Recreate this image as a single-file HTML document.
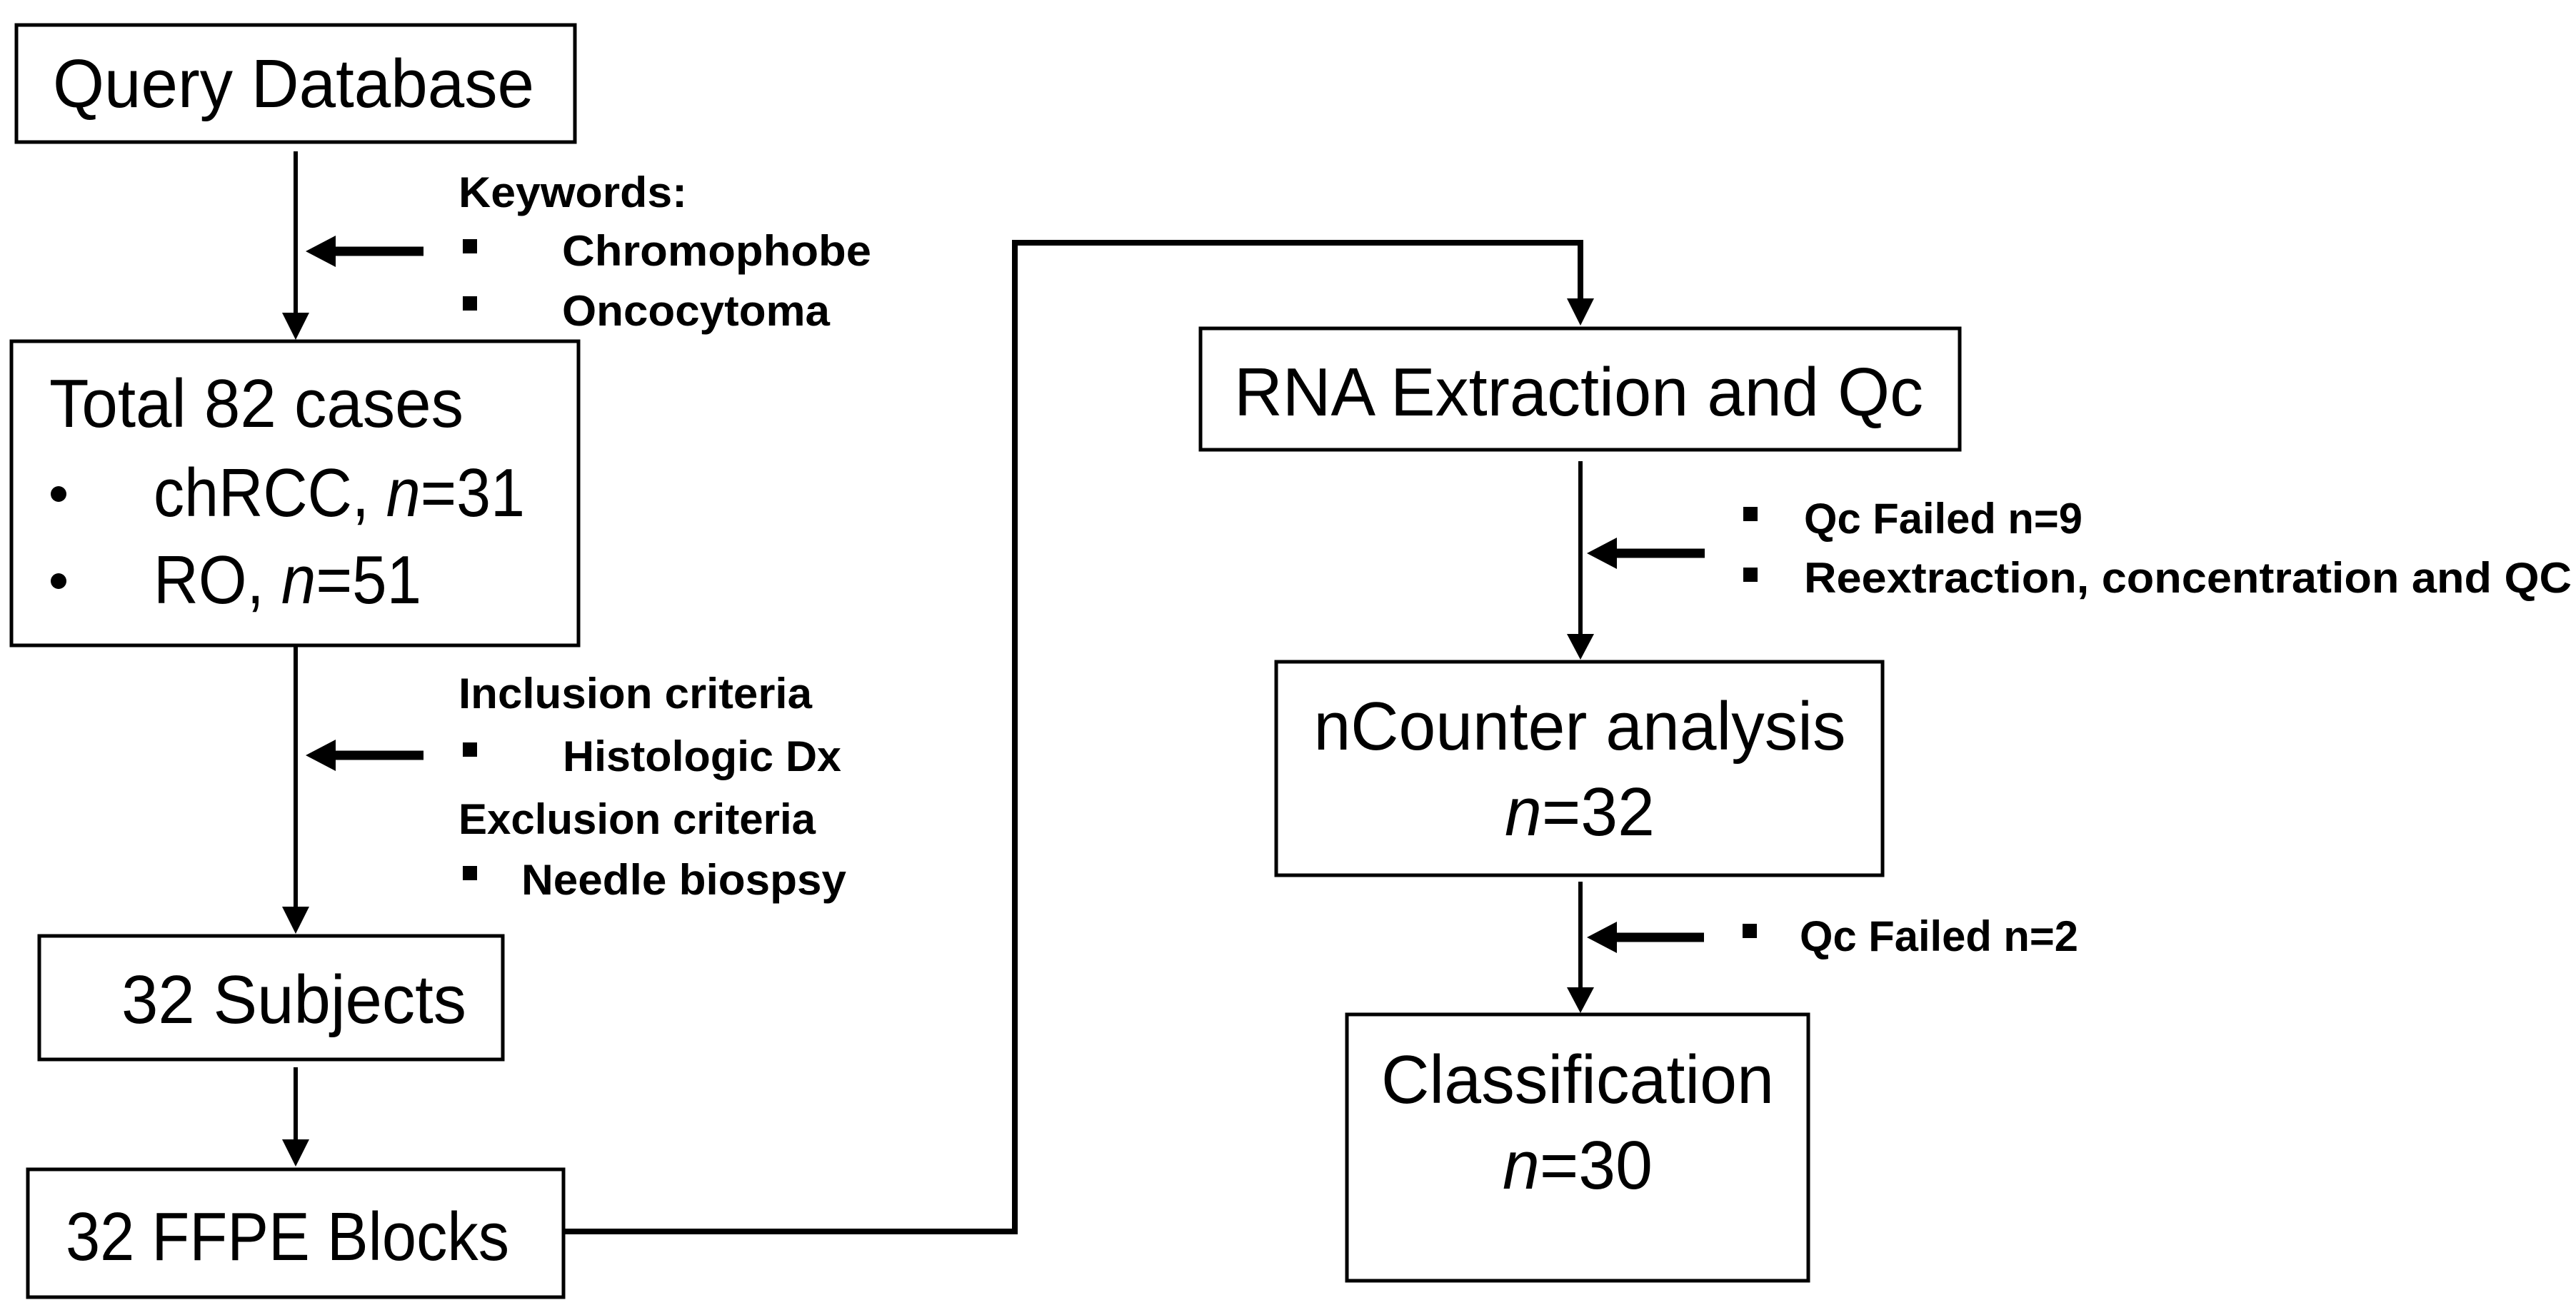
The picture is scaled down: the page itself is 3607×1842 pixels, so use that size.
<!DOCTYPE html>
<html><head><meta charset="utf-8"><style>
html,body{margin:0;padding:0;background:#fff;}
svg{display:block;}
.m{font-family:"Liberation Sans",sans-serif;font-size:96px;fill:#000;}
.b{font-family:"Liberation Sans",sans-serif;font-size:60px;font-weight:bold;fill:#000;}
</style></head><body>
<svg width="3607" height="1842" viewBox="0 0 3607 1842" xmlns="http://www.w3.org/2000/svg">
<g fill="none" stroke="#000" stroke-width="5">
<rect x="23" y="35" width="782" height="164"/>
<rect x="16" y="478" width="794" height="426"/>
<rect x="55" y="1311" width="649" height="173"/>
<rect x="39" y="1638" width="750" height="179"/>
<rect x="1681" y="460" width="1063" height="170"/>
<rect x="1787" y="927" width="849" height="299"/>
<rect x="1886" y="1421" width="646" height="373"/>
</g>
<g stroke="#000" stroke-width="6" fill="none">
<line x1="414" y1="212" x2="414" y2="440"/>
<line x1="414" y1="904" x2="414" y2="1272"/>
<line x1="414" y1="1495" x2="414" y2="1596"/>
<line x1="2213" y1="646" x2="2213" y2="890"/>
<line x1="2213" y1="1235" x2="2213" y2="1385"/>
<polyline points="789,1725 1421,1725 1421,340 2213,340 2213,420" stroke-width="8"/>
</g>
<g fill="#000">
<polygon points="395,438 433,438 414,476"/>
<polygon points="395,1270 433,1270 414,1308"/>
<polygon points="395,1596 433,1596 414,1634"/>
<polygon points="2194,418 2232,418 2213,456"/>
<polygon points="2194,888 2232,888 2213,924"/>
<polygon points="2194,1383 2232,1383 2213,1419"/>
</g>
<g stroke="#000" stroke-width="13">
<line x1="593" y1="352" x2="465" y2="352"/>
<line x1="593" y1="1058" x2="465" y2="1058"/>
<line x1="2387" y1="775" x2="2258" y2="775"/>
<line x1="2386" y1="1313" x2="2258" y2="1313"/>
</g>
<g fill="#000">
<polygon points="470,330 470,374 428,352"/>
<polygon points="470,1036 470,1080 428,1058"/>
<polygon points="2264,753 2264,797 2222,775"/>
<polygon points="2264,1291 2264,1335 2222,1313"/>
</g>
<g fill="#000">
<rect x="648" y="335" width="20" height="20"/>
<rect x="648" y="415" width="20" height="20"/>
<rect x="648" y="1040" width="20" height="20"/>
<rect x="648" y="1213" width="20" height="20"/>
<rect x="2441" y="710" width="20" height="20"/>
<rect x="2441" y="795" width="20" height="20"/>
<rect x="2440" y="1294" width="20" height="20"/>
<circle cx="82" cy="692" r="11"/>
<circle cx="82" cy="814" r="11"/>
</g>
<text class="m" x="74" y="150" textLength="674" lengthAdjust="spacingAndGlyphs">Query Database</text>
<text class="m" x="69" y="598" textLength="580" lengthAdjust="spacingAndGlyphs">Total 82 cases</text>
<text class="m" x="215" y="723" textLength="520" lengthAdjust="spacingAndGlyphs">chRCC, <tspan font-style="italic">n</tspan>=31</text>
<text class="m" x="215" y="845" textLength="375" lengthAdjust="spacingAndGlyphs">RO, <tspan font-style="italic">n</tspan>=51</text>
<text class="m" x="170" y="1433" textLength="483" lengthAdjust="spacingAndGlyphs">32 Subjects</text>
<text class="m" x="92" y="1765" textLength="621" lengthAdjust="spacingAndGlyphs">32 FFPE Blocks</text>
<text class="m" x="1728" y="582" textLength="965" lengthAdjust="spacingAndGlyphs">RNA Extraction and Qc</text>
<text class="m" x="2212" y="1050" text-anchor="middle" textLength="745" lengthAdjust="spacingAndGlyphs">nCounter analysis</text>
<text class="m" x="2212" y="1170" text-anchor="middle" textLength="210" lengthAdjust="spacingAndGlyphs"><tspan font-style="italic">n</tspan>=32</text>
<text class="m" x="2209" y="1545" text-anchor="middle" textLength="550" lengthAdjust="spacingAndGlyphs">Classification</text>
<text class="m" x="2209" y="1665" text-anchor="middle" textLength="210" lengthAdjust="spacingAndGlyphs"><tspan font-style="italic">n</tspan>=30</text>
<text class="b" x="642" y="290" textLength="320" lengthAdjust="spacingAndGlyphs">Keywords:</text>
<text class="b" x="787" y="372" textLength="433" lengthAdjust="spacingAndGlyphs">Chromophobe</text>
<text class="b" x="787" y="456" textLength="375" lengthAdjust="spacingAndGlyphs">Oncocytoma</text>
<text class="b" x="642" y="992" textLength="495" lengthAdjust="spacingAndGlyphs">Inclusion criteria</text>
<text class="b" x="788" y="1080" textLength="390" lengthAdjust="spacingAndGlyphs">Histologic Dx</text>
<text class="b" x="642" y="1168" textLength="500" lengthAdjust="spacingAndGlyphs">Exclusion criteria</text>
<text class="b" x="730" y="1253" textLength="455" lengthAdjust="spacingAndGlyphs">Needle biospsy</text>
<text class="b" x="2526" y="747" textLength="390" lengthAdjust="spacingAndGlyphs">Qc Failed n=9</text>
<text class="b" x="2526" y="830" textLength="1075" lengthAdjust="spacingAndGlyphs">Reextraction, concentration and QC</text>
<text class="b" x="2520" y="1332" textLength="390" lengthAdjust="spacingAndGlyphs">Qc Failed n=2</text>
</svg>
</body></html>
